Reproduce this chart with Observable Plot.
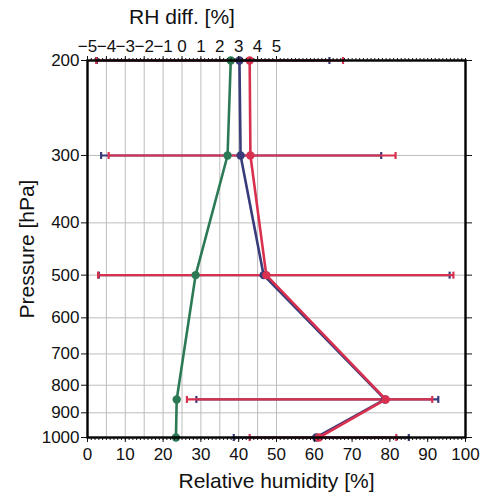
<!DOCTYPE html>
<html><head><meta charset="utf-8">
<script src="https://cdn.jsdelivr.net/npm/d3@7"></script>
<script src="https://cdn.jsdelivr.net/npm/@observablehq/plot@0.6"></script>
<style>
body{margin:0;background:#fff;}
#chart svg{display:block;font-family:"Liberation Sans",Arial,Helvetica,sans-serif;}
</style>
</head><body><div id="chart"></div>
<script>
// Pressure levels [hPa]
const pressure = [200, 300, 500, 850, 1000];
// Series A (navy): mean RH and error-bar ends [%]
const rhA = [40.2, 40.5, 46.6, 78.7, 60.5];
const rhALow = [2.5, 3.6, 3.0, 28.8, 38.7];
const rhAHigh = [64.0, 77.7, 95.8, 92.8, 85.0];
// Series B (red): mean RH and error-bar ends [%]
const rhB = [42.9, 43.1, 47.3, 78.9, 61.2];
const rhBLow = [2.3, 5.6, 2.8, 26.3, 42.9];
const rhBHigh = [67.6, 81.5, 96.8, 91.2, 81.7];
// Difference (green) on the top axis [%]
const rhDiff = [2.58, 2.41, 0.72, -0.28, -0.32];
// Tick labels
const pressureTicks = [200, 300, 400, 500, 600, 700, 800, 900, 1000];
const rhTicks = [0, 10, 20, 30, 40, 50, 60, 70, 80, 90, 100];
const diffTicks = [-5, -4, -3, -2, -1, 0, 1, 2, 3, 4, 5];

const colA = "#383c7a", colB = "#d8304f", colD = "#2c7a55";

// top axis: RH diff d drawn on the RH scale as (d + 5) * 5
const diffToRh = d => (d + 5) * 5;
const rhToDiff = v => Math.round(v / 5 - 5);

const A = pressure.map((p, i) => ({p, v: rhA[i], lo: rhALow[i], hi: rhAHigh[i]}));
const B = pressure.map((p, i) => ({p, v: rhB[i], lo: rhBLow[i], hi: rhBHigh[i]}));
const D = pressure.map((p, i) => ({p, v: diffToRh(rhDiff[i])}));

const cap = {draw(ctx, size) { const h = Math.sqrt(size / Math.PI); ctx.moveTo(0, -h); ctx.lineTo(0, h); }};

function errMarks(data, color) {
  return [
    Plot.link(data, {x1: "lo", x2: "hi", y1: "p", y2: "p", stroke: color, strokeWidth: 2.2}),
    Plot.dot(data, {x: "lo", y: "p", symbol: cap, r: 3.5, stroke: color, strokeWidth: 2.2, fill: "none"}),
    Plot.dot(data, {x: "hi", y: "p", symbol: cap, r: 3.5, stroke: color, strokeWidth: 2.2, fill: "none"})
  ];
}
function profile(data, color) {
  return [
    Plot.line(data, {x: "v", y: "p", stroke: color, strokeWidth: 2.6}),
    Plot.dot(data, {x: "v", y: "p", r: 4.2, fill: color, stroke: "none"})
  ];
}

const minor = Array.from({length: 101}, (_, i) => i);
const blank = () => "";

const chart = Plot.plot({
  width: 481, height: 495,
  marginTop: 60, marginBottom: 58, marginLeft: 87, marginRight: 16,
  style: {fontFamily: '"Liberation Sans", Arial, Helvetica, sans-serif', fontSize: "17px", color: "#111", background: "#fff"},
  x: {domain: [0, 100]},
  y: {type: "log", domain: [200, 1000], reverse: true},
  marks: [
    Plot.gridY({ticks: pressureTicks.slice(1, -1), stroke: "#bdbdbd", strokeOpacity: 1}),
    Plot.gridX({ticks: diffTicks.slice(1).map(diffToRh), stroke: "#bdbdbd", strokeOpacity: 1}),
    ...errMarks(A, colA),
    ...errMarks(B, colB),
    ...profile(A, colA),
    ...profile(B, colB),
    ...profile(D, colD),
    Plot.frame({stroke: "#000", strokeWidth: 2.4}),
    Plot.axisY({anchor: "left", ticks: pressureTicks, tickFormat: d => String(d), tickSize: 6, tickPadding: 2, fontSize: 17,
      label: "Pressure [hPa]", labelAnchor: "center", labelOffset: 68, labelArrow: "none"}),
    Plot.axisY({anchor: "right", ticks: pressureTicks, tickFormat: blank, tickSize: 6, label: null}),
    Plot.axisX({anchor: "bottom", ticks: rhTicks, tickFormat: d => String(d), tickSize: 5, tickPadding: 5, fontSize: 17,
      label: "Relative humidity [%]", labelAnchor: "center", labelOffset: 50, labelArrow: "none"}),
    Plot.axisX({anchor: "bottom", ticks: minor, tickFormat: blank, tickSize: 3, label: null}),
    Plot.axisX({anchor: "top", ticks: diffTicks.map(diffToRh), tickFormat: v => { const d = rhToDiff(v); return d < 0 ? "\u2212" + (-d) : String(d); },
      tickSize: 5, tickPadding: 4, fontSize: 17, label: null}),
    Plot.axisX({anchor: "top", ticks: minor, tickFormat: blank, tickSize: 3, label: null}),
    Plot.text([0], {x: d => diffToRh(d), text: () => "RH diff. [%]", frameAnchor: "top", dy: -43, fontSize: 21, lineAnchor: "middle"})
  ]
});
chart.querySelectorAll('g[aria-label="y-axis label"], g[aria-label="x-axis label"]').forEach(g => g.setAttribute("font-size", "21"));
document.getElementById("chart").append(chart);
</script>
</body></html>
